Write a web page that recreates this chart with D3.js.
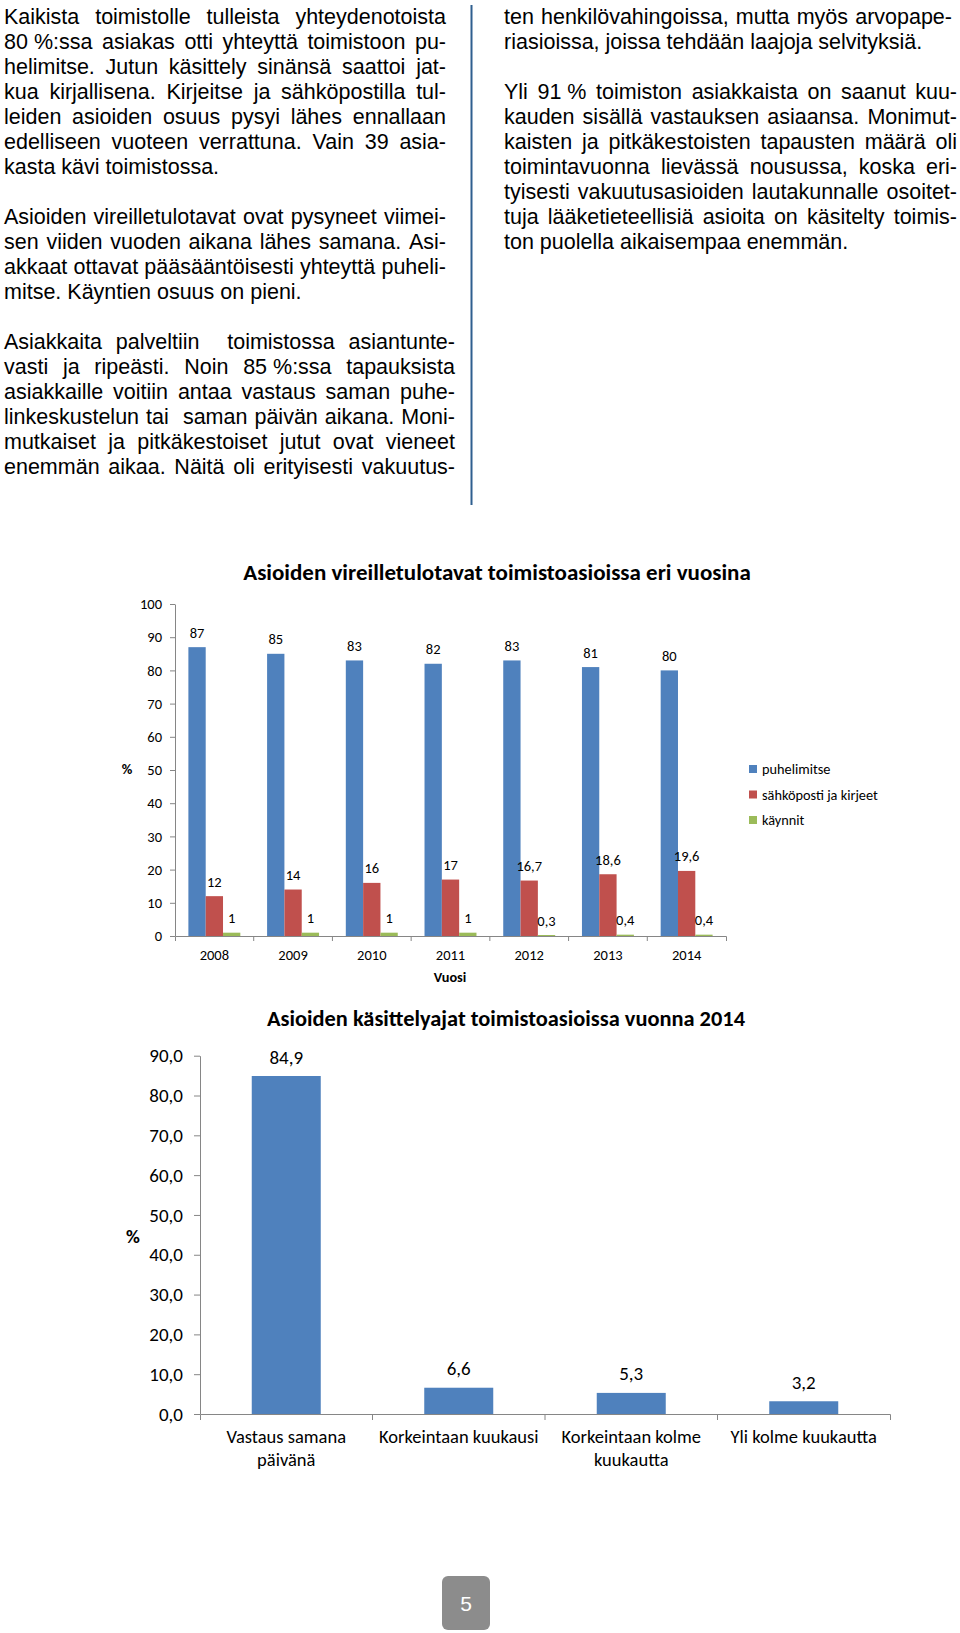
<!DOCTYPE html>
<html>
<head>
<meta charset="utf-8">
<script src="https://cdn.jsdelivr.net/npm/d3@7"></script>
<style>
  body { margin: 0; background: #fff; }
  svg { display: block; }
</style>
</head>
<body>
<svg id="page" width="960" height="1633"></svg>
<script>
// ---- chart 1 data: how cases came in, per year (%)
let years = ['2008', '2009', '2010', '2011', '2012', '2013', '2014'];
let puhelimitse = [87, 85, 83, 82, 83, 81, 80];
let sahkoposti = [12, 14, 16, 17, 16.7, 18.6, 19.6];
let kaynnit = [1, 1, 1, 1, 0.3, 0.4, 0.4];
let seriesNames = ['puhelimitse', 'sähköposti ja kirjeet', 'käynnit'];
let seriesColors = ['#4f81bd', '#c0504d', '#9bbb59'];
let yTicks1 = [0, 10, 20, 30, 40, 50, 60, 70, 80, 90, 100];

// ---- chart 2 data: handling times in 2014 (%)
let durations = ['Vastaus samana päivänä', 'Korkeintaan kuukausi', 'Korkeintaan kolme kuukautta', 'Yli kolme kuukautta'];
let durationLines = [['Vastaus samana', 'päivänä'], ['Korkeintaan kuukausi'], ['Korkeintaan kolme', 'kuukautta'], ['Yli kolme kuukautta']];
let durationValues = [84.9, 6.6, 5.3, 3.2];
let yTicks2 = [0, 10, 20, 30, 40, 50, 60, 70, 80, 90];

// ---- body text, line by line as in the page
let leftPara1 = [
    'Kaikista toimistolle tulleista yhteydenotoista',
    '80\u00a0%:ssa asiakas otti yhteyttä toimistoon pu-',
    'helimitse. Jutun käsittely sinänsä saattoi jat-',
    'kua kirjallisena. Kirjeitse ja sähköpostilla tul-',
    'leiden asioiden osuus pysyi lähes ennallaan',
    'edelliseen vuoteen verrattuna. Vain 39 asia-',
    'kasta kävi toimistossa.'
];
let leftPara2 = [
    'Asioiden vireilletulotavat ovat pysyneet viimei-',
    'sen viiden vuoden aikana lähes samana. Asi-',
    'akkaat ottavat pääsääntöisesti yhteyttä puheli-',
    'mitse. Käyntien osuus on pieni.'
];
let leftPara3 = [
    'Asiakkaita palveltiin  toimistossa asiantunte-',
    'vasti ja ripeästi. Noin 85\u00a0%:ssa tapauksista',
    'asiakkaille voitiin antaa vastaus saman puhe-',
    'linkeskustelun tai  saman päivän aikana. Moni-',
    'mutkaiset ja pitkäkestoiset jutut ovat vieneet',
    'enemmän aikaa. Näitä oli erityisesti vakuutus-'
];
let rightPara1 = [
    'ten henkilövahingoissa, mutta myös arvopape-',
    'riasioissa, joissa tehdään laajoja selvityksiä.'
];
let rightPara2 = [
    'Yli 91\u00a0% toimiston asiakkaista on saanut kuu-',
    'kauden sisällä vastauksen asiaansa. Monimut-',
    'kaisten ja pitkäkestoisten tapausten määrä oli',
    'toimintavuonna lievässä nousussa, koska eri-',
    'tyisesti vakuutusasioiden lautakunnalle osoitet-',
    'tuja lääketieteellisiä asioita on käsitelty toimis-',
    'ton puolella aikaisempaa enemmän.'
];

let svg = d3.select('#page');
let chartFont = 'Carlito, Calibri, Lato, sans-serif';
let axisGrey = '#868686';
let commaFmt = d => String(d).replace('.', ',');

// ---------- body text (justified like the original)
let body = svg.append('g')
    .attr('font-family', '"Liberation Sans", Arial, sans-serif')
    .attr('font-size', 21.5)
    .attr('fill', '#000');

let firstBaseline = 24,
    lineStep = 25;

function drawParagraph(lines, startLine, left, right, justifyLast) {
    lines.forEach((line, i) => {
        let y = firstBaseline + (startLine + i) * lineStep;
        let t = body.append('text').attr('x', left).attr('y', y);
        if (i === lines.length - 1 && !justifyLast) {
            t.text(line);
            return;
        }
        let words = line.split(' ');
        let spans = words.map(w => t.append('tspan').text(w));
        let widths = spans.map(s => s.node().getComputedTextLength());
        let gap = (right - left - d3.sum(widths)) / (words.length - 1);
        let cx = left;
        spans.forEach((s, j) => {
            s.attr('x', cx);
            cx += widths[j] + gap;
        });
    });
}

drawParagraph(leftPara1, 0, 4, 446, false);
drawParagraph(leftPara2, 8, 4, 446, false);
drawParagraph(leftPara3, 13, 4, 455, true);
drawParagraph(rightPara1, 0, 504, 952, false);
drawParagraph(rightPara2, 3, 504, 957, false);

// column divider
svg.append('line')
    .attr('x1', 471.5).attr('x2', 471.5)
    .attr('y1', 5).attr('y2', 505)
    .attr('stroke', '#2f5f8f')
    .attr('stroke-width', 2);

// ---------- chart 1
let c1 = svg.append('g').attr('font-family', chartFont);

let x1 = d3.scaleBand().domain(years).range([175, 726]).paddingInner(0.34).paddingOuter(0.17);
let xs1 = d3.scaleBand().domain(d3.range(3)).range([0, x1.bandwidth()]);
let y1 = d3.scaleLinear().domain([0, 100]).range([936, 604]);

let series1 = [puhelimitse, sahkoposti, kaynnit];

c1.append('text')
    .attr('x', 497).attr('y', 580)
    .attr('text-anchor', 'middle')
    .attr('font-weight', 'bold')
    .attr('font-size', 23)
    .text('Asioiden vireilletulotavat toimistoasioissa eri vuosina');

series1.forEach((vals, si) => {
    c1.append('g').selectAll('rect')
        .data(vals)
        .join('rect')
            .attr('x', (d, i) => x1(years[i]) + xs1(si))
            .attr('y', d => y1(d))
            .attr('width', xs1.bandwidth())
            .attr('height', d => y1(0) - y1(d))
            .attr('fill', seriesColors[si]);

    c1.append('g').selectAll('text')
        .data(vals)
        .join('text')
            .attr('x', (d, i) => x1(years[i]) + xs1(si) + xs1.bandwidth() / 2)
            .attr('y', d => y1(d) - 9.5)
            .attr('text-anchor', 'middle')
            .attr('font-size', 14.5)
            .text(commaFmt);
});

let yAxis1 = c1.append('g')
    .attr('transform', 'translate(175,0)')
    .call(d3.axisLeft(y1).tickValues(yTicks1).tickSize(5).tickPadding(8).tickSizeOuter(0));

let xAxis1 = c1.append('g')
    .attr('transform', 'translate(0,936)')
    .call(d3.axisBottom(x1).tickSize(0).tickSizeOuter(5).tickPadding(14));

// category boundary ticks
c1.append('g').selectAll('line')
    .data(d3.range(1, years.length))
    .join('line')
        .attr('x1', i => x1.range()[0] + i * x1.step())
        .attr('x2', i => x1.range()[0] + i * x1.step())
        .attr('y1', 936).attr('y2', 941)
        .attr('stroke', axisGrey);

[yAxis1, xAxis1].forEach(a => {
    a.attr('font-family', chartFont).attr('font-size', 14.5);
    a.selectAll('path, line').attr('stroke', axisGrey);
    a.selectAll('text').attr('fill', '#000');
});

c1.append('text')
    .attr('x', 450).attr('y', 982)
    .attr('text-anchor', 'middle')
    .attr('font-weight', 'bold')
    .attr('font-size', 14.3)
    .text('Vuosi');

c1.append('text')
    .attr('x', 127).attr('y', 774)
    .attr('text-anchor', 'middle')
    .attr('font-weight', 'bold')
    .attr('font-size', 14.5)
    .text('%');

// legend
let legend = c1.append('g').attr('transform', 'translate(749,765)');
seriesNames.forEach((name, i) => {
    let row = legend.append('g').attr('transform', 'translate(0,' + (i * 25.5) + ')');
    row.append('rect').attr('width', 8).attr('height', 8).attr('fill', seriesColors[i]);
    row.append('text').attr('x', 13).attr('y', 9).attr('font-size', 14.3).text(name);
});

// ---------- chart 2
let c2 = svg.append('g').attr('font-family', chartFont);

let x2 = d3.scaleBand().domain(durations).range([200, 890]).paddingInner(0.6).paddingOuter(0.3);
let y2 = d3.scaleLinear().domain([0, 90]).range([1414, 1055.7]);
let fmt1 = d => d3.format('.1f')(d).replace('.', ',');

c2.append('text')
    .attr('x', 506).attr('y', 1026)
    .attr('text-anchor', 'middle')
    .attr('font-weight', 'bold')
    .attr('font-size', 22.4)
    .text('Asioiden käsittelyajat toimistoasioissa vuonna 2014');

c2.append('g').selectAll('rect')
    .data(durationValues)
    .join('rect')
        .attr('x', (d, i) => x2(durations[i]))
        .attr('y', d => y2(d))
        .attr('width', x2.bandwidth())
        .attr('height', d => y2(0) - y2(d))
        .attr('fill', '#4f81bd');

c2.append('g').selectAll('text')
    .data(durationValues)
    .join('text')
        .attr('x', (d, i) => x2(durations[i]) + x2.bandwidth() / 2)
        .attr('y', d => y2(d) - 12.5)
        .attr('text-anchor', 'middle')
        .attr('font-size', 19)
        .text(fmt1);

let yAxis2 = c2.append('g')
    .attr('transform', 'translate(200,0)')
    .call(d3.axisLeft(y2).tickValues(yTicks2).tickFormat(fmt1).tickSize(6).tickPadding(11).tickSizeOuter(0));

let xAxis2 = c2.append('g')
    .attr('transform', 'translate(0,1414)')
    .call(d3.axisBottom(x2).tickSize(0).tickSizeOuter(6).tickFormat(''));

c2.append('g').selectAll('line')
    .data(d3.range(1, durations.length))
    .join('line')
        .attr('x1', i => x2.range()[0] + i * x2.step())
        .attr('x2', i => x2.range()[0] + i * x2.step())
        .attr('y1', 1414).attr('y2', 1420)
        .attr('stroke', axisGrey);

[yAxis2, xAxis2].forEach(a => {
    a.attr('font-family', chartFont).attr('font-size', 19);
    a.selectAll('path, line').attr('stroke', axisGrey);
    a.selectAll('text').attr('fill', '#000');
});

// multi-line category labels
durations.forEach((d, i) => {
    let t = c2.append('text')
        .attr('text-anchor', 'middle')
        .attr('font-size', 18.5);
    durationLines[i].forEach((ln, j) => {
        t.append('tspan')
            .attr('x', x2(d) + x2.bandwidth() / 2)
            .attr('y', 1443 + j * 23)
            .text(ln);
    });
});

c2.append('text')
    .attr('x', 133).attr('y', 1243)
    .attr('text-anchor', 'middle')
    .attr('font-weight', 'bold')
    .attr('font-size', 19)
    .text('%');

// ---------- page number
svg.append('rect')
    .attr('x', 442).attr('y', 1576)
    .attr('width', 48).attr('height', 54)
    .attr('rx', 6)
    .attr('fill', '#8c8c8c');

svg.append('text')
    .attr('x', 466).attr('y', 1611)
    .attr('text-anchor', 'middle')
    .attr('font-family', '"Liberation Sans", Arial, sans-serif')
    .attr('font-size', 21)
    .attr('fill', '#fff')
    .text('5');
</script>
</body>
</html>
